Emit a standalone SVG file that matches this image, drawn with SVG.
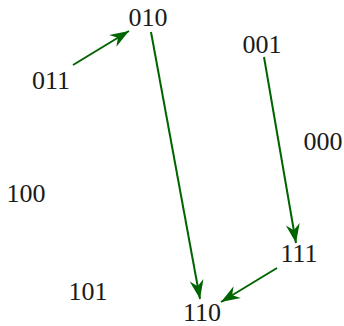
<svg xmlns="http://www.w3.org/2000/svg" width="344" height="326" viewBox="0 0 344 326">
<defs>
<style>
text{font-family:"Liberation Serif","DejaVu Serif",serif;font-size:26px;fill:#1a1a1a;text-anchor:middle}
.e{stroke:#006400;stroke-width:2;fill:none;marker-end:url(#ah)}
</style>
<marker id="ah" markerUnits="userSpaceOnUse" viewBox="-20 -8 22 16" refX="0" refY="0" markerWidth="22" markerHeight="16" orient="auto">
<path d="M0,0 L-19,-7 L-13,0 L-19,7 Z" fill="#006400"/>
</marker>
</defs>
<rect width="344" height="326" fill="#fff"/>
<g id="edges">
<line class="e" x1="73" y1="65" x2="129" y2="31"/>
<line class="e" x1="151" y1="32" x2="200" y2="299"/>
<line class="e" x1="264" y1="57" x2="296" y2="243"/>
<line class="e" x1="277" y1="268" x2="221" y2="302"/>
</g>
<g id="n010"><text x="148" y="26">010</text></g>
<g id="n001"><text x="262" y="53">001</text></g>
<g id="n011"><text x="51" y="89">011</text></g>
<g id="n000"><text x="323" y="150">000</text></g>
<g id="n100"><text x="26" y="202">100</text></g>
<g id="n111"><text x="299" y="262">111</text></g>
<g id="n101"><text x="88" y="300">101</text></g>
<g id="n110"><text x="202" y="321">110</text></g>
</svg>
